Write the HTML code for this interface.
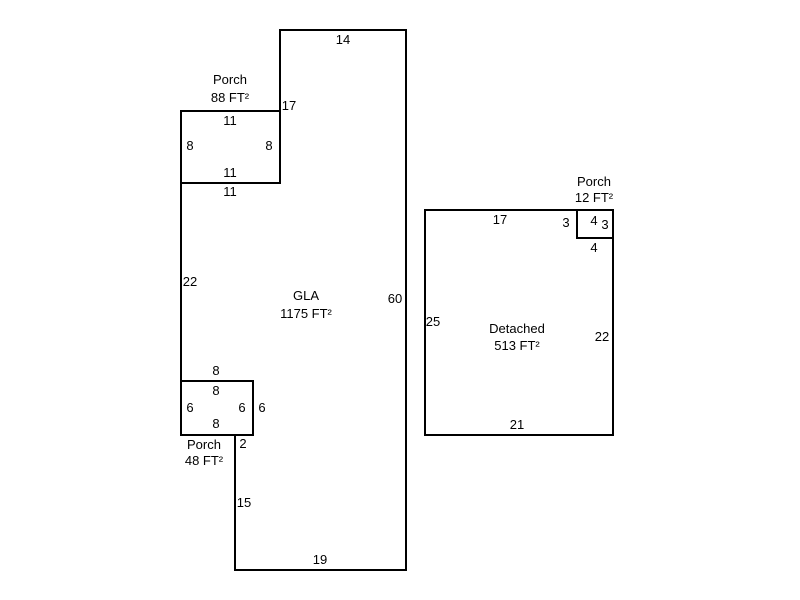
<!DOCTYPE html>
<html><head><style>html,body{margin:0;padding:0;background:#fff}svg{display:block}</style></head>
<body>
<svg width="800" height="600" xmlns="http://www.w3.org/2000/svg" font-family="Liberation Sans, Arial, sans-serif" font-size="13" fill="#000">
<g stroke="#000" stroke-width="2" fill="none">
<polyline points="280,183 280,30 406,30 406,570 235,570 235,435"/>
<rect x="181" y="111" width="99" height="72"/>
<line x1="181" y1="183" x2="181" y2="381"/>
<rect x="181" y="381" width="72" height="54"/>
<rect x="425" y="210" width="188" height="225"/>
<rect x="577" y="210" width="36" height="28"/>
</g>
<g text-anchor="middle">
<text x="343" y="44">14</text>
<text x="230" y="84">Porch</text>
<text x="230" y="102">88 FT²</text>
<text x="289" y="110">17</text>
<text x="230" y="125">11</text>
<text x="190" y="150">8</text>
<text x="269" y="150">8</text>
<text x="230" y="177">11</text>
<text x="230" y="196">11</text>
<text x="190" y="286">22</text>
<text x="306" y="300">GLA</text>
<text x="306" y="318">1175 FT²</text>
<text x="395" y="303">60</text>
<text x="216" y="375">8</text>
<text x="216" y="395">8</text>
<text x="190" y="412">6</text>
<text x="242" y="412">6</text>
<text x="262" y="412">6</text>
<text x="216" y="428">8</text>
<text x="204" y="449">Porch</text>
<text x="204" y="465">48 FT²</text>
<text x="243" y="448">2</text>
<text x="244" y="507">15</text>
<text x="320" y="564">19</text>
<text x="594" y="186">Porch</text>
<text x="594" y="202">12 FT²</text>
<text x="500" y="224">17</text>
<text x="566" y="227">3</text>
<text x="594" y="225">4</text>
<text x="605" y="229">3</text>
<text x="594" y="252">4</text>
<text x="433" y="326">25</text>
<text x="517" y="333">Detached</text>
<text x="517" y="350">513 FT²</text>
<text x="602" y="341">22</text>
<text x="517" y="429">21</text>
</g>
</svg>
</body></html>
